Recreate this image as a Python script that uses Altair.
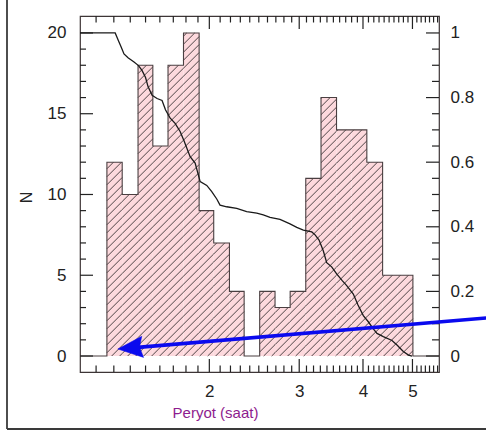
import math
import pandas as pd
import altair as alt

# ---------------- data ----------------
bin_edges = [1.26, 1.35, 1.45, 1.55, 1.66, 1.78, 1.91, 2.04, 2.19, 2.34, 2.51,
             2.69, 2.88, 3.09, 3.31, 3.55, 3.80, 4.07, 4.37, 4.68, 5.01]
counts = [12, 10, 18, 13, 18, 20, 9, 7, 4, 0, 4, 3, 4, 11, 16, 14, 14, 12, 5, 5]

cum_period = [1.116, 1.308, 1.328, 1.343, 1.361, 1.386, 1.424, 1.453, 1.476, 1.500,
              1.517, 1.545, 1.580, 1.616, 1.641, 1.675, 1.714, 1.753, 1.784, 1.834,
              1.876, 1.919, 1.977, 2.022, 2.068, 2.099, 2.163, 2.263, 2.367, 2.477,
              2.551, 2.630, 2.751, 2.878, 2.967, 3.057, 3.175, 3.223, 3.281, 3.345,
              3.396, 3.473, 3.552, 3.639, 3.717, 3.829, 3.911, 4.006, 4.097, 4.191,
              4.261, 4.384, 4.559, 4.663, 4.798, 4.912, 4.990]
cum_frac = [1.0, 1.0, 0.975, 0.957, 0.935, 0.923, 0.910, 0.899, 0.884, 0.862,
            0.834, 0.807, 0.797, 0.791, 0.762, 0.737, 0.720, 0.695, 0.666, 0.617,
            0.597, 0.540, 0.528, 0.509, 0.486, 0.467, 0.462, 0.457, 0.447, 0.442,
            0.437, 0.429, 0.423, 0.409, 0.398, 0.390, 0.384, 0.375, 0.359, 0.325,
            0.289, 0.276, 0.254, 0.234, 0.218, 0.192, 0.158, 0.125, 0.106, 0.084,
            0.070, 0.060, 0.048, 0.034, 0.014, 0.003, 0.0]

x_major = [2, 3, 4, 5]
x_minor = [1.2, 1.3, 1.4, 1.5, 1.6, 1.7, 1.8, 1.9,
           2.1, 2.2, 2.3, 2.4, 2.5, 2.6, 2.7, 2.8, 2.9,
           3.1, 3.2, 3.3, 3.4, 3.5, 3.6, 3.7, 3.8, 3.9,
           4.1, 4.2, 4.3, 4.4, 4.5, 4.6, 4.7, 4.8, 4.9,
           5.1, 5.2, 5.3, 5.4, 5.5, 5.6]
n_major = [0, 5, 10, 15, 20]
n_minor = [1, 2, 3, 4, 6, 7, 8, 9, 11, 12, 13, 14, 16, 17, 18, 19]
f_major = [0, 0.2, 0.4, 0.6, 0.8, 1.0]
f_minor = [0.05, 0.1, 0.15, 0.25, 0.3, 0.35, 0.45, 0.5, 0.55,
           0.65, 0.7, 0.75, 0.85, 0.9, 0.95]

# arrow annotation (tail outside the frame, tip near the first bin)
arrow_period = [6.97, 1.43]
arrow_n = [2.35, 0.52]
arrow_head = [1.40, 0.50]

# ---------------- layout / style ----------------
W, H = 359, 356
XDOM = [1.116, 5.636]
YDOM = [-0.99, 21.05]
FDOM = [YDOM[0] / 20.0, YDOM[1] / 20.0]
PINK = "#fdd9dd"
INK = "#222222"
OUT = "#4a3f41"
PURPLE = "#8e1b8e"
FONT = "Liberation Sans"

xs = alt.Scale(type="log", domain=XDOM, nice=False)
ys = alt.Scale(domain=YDOM, nice=False, zero=False)
fs = alt.Scale(domain=FDOM, nice=False, zero=False)

bars_df = pd.DataFrame({"lo": bin_edges[:-1], "hi": bin_edges[1:], "n": counts,
                        "z": [0] * len(counts)})

# step outline of the histogram
ol_x = [XDOM[0]] + bin_edges + [XDOM[1]]
ol_y = [0] + counts + [0, 0]
outline_df = pd.DataFrame({"p": ol_x, "n": ol_y})

# hatch segments (45 degrees on screen), derived from the bars
kx = W / (math.log10(XDOM[1]) - math.log10(XDOM[0]))
ky = H / (YDOM[1] - YDOM[0])
sp = 8.0
segs = []
for lo, hi, n in zip(bin_edges[:-1], bin_edges[1:], counts):
    if n <= 0:
        continue
    u0, u1, vh = kx * math.log10(lo), kx * math.log10(hi), ky * n
    k0 = math.floor(-u1 / sp)
    k1 = math.ceil((vh - u0) / sp)
    for k in range(k0, k1 + 1):
        c = k * sp
        us = max(u0, -c)
        ue = min(u1, vh - c)
        if ue - us > 0.3:
            segs.append({"x1": 10 ** (us / kx), "x2": 10 ** (ue / kx),
                         "y1": (us + c) / ky, "y2": (ue + c) / ky})
hatch_df = pd.DataFrame(segs)

cum_df = pd.DataFrame({"p": cum_period, "f": cum_frac})

# ---------------- axes ----------------
x_axis = alt.Axis(values=x_major, format="~g", ticks=False, domain=False, grid=False,
                  labelPadding=11, labelFontSize=17, labelFont=FONT, labelColor=INK,
                  labelOverlap=False, labelFlush=False,
                  title="Peryot (saat)", titleColor=PURPLE, titleFontSize=15,
                  titleFont=FONT, titleFontWeight="normal", titleX=135, titleY=33,
                  titleAlign="center", titleBaseline="top")
y_axis = alt.Axis(values=n_major, ticks=False, domain=False, grid=False,
                  labelPadding=14, labelFontSize=17, labelFont=FONT, labelColor=INK,
                  labelOverlap=False, labelFlush=False,
                  title="N", titleFontSize=16, titleFont=FONT, titleColor=INK,
                  titleFontWeight="normal", titleX=-54, titleY=181, titleAngle=270,
                  titleAlign="center", titleBaseline="middle")
f_axis = alt.Axis(orient="right", values=f_major, format="~g", ticks=False,
                  domain=False, grid=False, labelPadding=11, labelFontSize=17,
                  labelFont=FONT, labelColor=INK, labelOverlap=False,
                  labelFlush=False, title=None)


def X(field):
    return alt.X(field, type="quantitative", scale=xs, axis=x_axis)


# ---------------- layers ----------------
bars = alt.Chart(bars_df).mark_rect(fill=PINK, strokeWidth=0).encode(
    x=X("lo"), x2="hi:Q",
    y=alt.Y("z:Q", scale=ys, axis=y_axis), y2="n:Q")

hatch = alt.Chart(hatch_df).mark_rule(stroke="#4f4446", strokeWidth=1.0).encode(
    x=X("x1"), x2="x2:Q",
    y=alt.Y("y1:Q", scale=ys, axis=None), y2="y2:Q")

outline = alt.Chart(outline_df).mark_line(interpolate="step-after", color=OUT,
                                          strokeWidth=1.1).encode(
    x=X("p"), y=alt.Y("n:Q", scale=ys, axis=None))


def vticks(vals, length, top):
    df = pd.DataFrame({"v": vals})
    if top:
        enc = dict(y=alt.value(0), y2=alt.value(length))
    else:
        enc = dict(y=alt.value(H), y2=alt.value(H - length))
    return alt.Chart(df).mark_rule(color=INK, strokeWidth=1.2).encode(x=X("v"), **enc)


def hticks(vals, length, scale, right):
    df = pd.DataFrame({"v": vals})
    if right:
        enc = dict(x=alt.value(W), x2=alt.value(W - length))
    else:
        enc = dict(x=alt.value(0), x2=alt.value(length))
    return alt.Chart(df).mark_rule(color=INK, strokeWidth=1.2).encode(
        y=alt.Y("v:Q", scale=scale, axis=None), **enc)


cum_line = alt.Chart(cum_df).mark_line(color="#1a1a1a", strokeWidth=1.3).encode(
    x=X("p"), y=alt.Y("f:Q", scale=fs, axis=f_axis))

arrow_df = pd.DataFrame({"p1": [arrow_period[0]], "p2": [arrow_period[1]],
                         "n1": [arrow_n[0]], "n2": [arrow_n[1]]})
arrow_line = alt.Chart(arrow_df).mark_rule(color="#0a0aee", strokeWidth=3.6,
                                           clip=False).encode(
    x=X("p1"), x2="p2:Q",
    y=alt.Y("n1:Q", scale=ys, axis=None), y2="n2:Q")
head_df = pd.DataFrame({"p": [arrow_head[0]], "n": [arrow_head[1]]})
arrow_tip = alt.Chart(head_df).mark_point(
    shape="M-1,0L1,-0.85L0.75,0L1,0.85Z", filled=True, fill="#0a0aee",
    stroke="#0a0aee", strokeWidth=0.5, opacity=1, size=620, angle=355, clip=False
).encode(x=X("p"), y=alt.Y("n:Q", scale=ys, axis=None))

border_df = pd.DataFrame({"a": [0]})
border_left = alt.Chart(border_df).mark_rule(color="#3a3a3a", strokeWidth=1.8,
                                             clip=False).encode(
    x=alt.value(-73), y=alt.value(-20), y2=alt.value(413))
border_bottom = alt.Chart(border_df).mark_rule(color="#3a3a3a", strokeWidth=1.8,
                                               clip=False).encode(
    x=alt.value(-73), x2=alt.value(420), y=alt.value(413))

chart = alt.layer(
    bars, hatch, outline,
    vticks(x_major, 13, False), vticks(x_minor, 6.5, False),
    vticks(x_major, 13, True), vticks(x_minor, 6.5, True),
    hticks(n_major, 13, ys, False), hticks(n_minor, 6, ys, False),
    cum_line, hticks(f_major, 13, fs, True), hticks(f_minor, 7, fs, True),
    arrow_line, arrow_tip, border_left, border_bottom,
).resolve_scale(y="independent").properties(
    width=W, height=H,
    padding={"left": 80, "top": 16, "right": 47, "bottom": 60},
    autosize=alt.AutoSizeParams(type="none"),
    background="white",
).configure_view(stroke="#3d3536", strokeWidth=1.2)

chart.save("out.html", embed_options={"renderer": "svg", "actions": False})
